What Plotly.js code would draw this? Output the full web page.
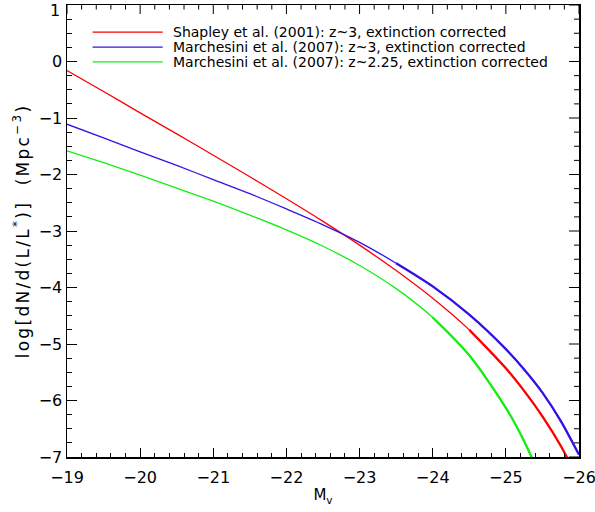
<!DOCTYPE html>
<html>
<head>
<meta charset="utf-8">
<script src="https://cdn.plot.ly/plotly-3.0.1.min.js"></script>
<style>
  html, body { margin: 0; padding: 0; background: #ffffff; }
  #chart { width: 595px; height: 512px; }
  #chart .ytitle { letter-spacing: 2.3px; }
</style>
</head>
<body>
<div id="chart"></div>
<script>
// ---- data ----
const absMag = [-19, -19.5, -20, -20.5, -21, -21.5, -22, -22.5, -23, -23.5, -24, -24.5, -25, -25.25, -25.5, -25.75, -26];
const shapleyZ3 = [-0.16, -0.53, -0.91, -1.28, -1.66, -2.04, -2.43, -2.83, -3.25, -3.70, -4.19, -4.75, -5.43, -5.83, -6.28, -6.80, -7.42];
const marchesiniZ3 = [-1.11, -1.35, -1.60, -1.84, -2.09, -2.34, -2.61, -2.89, -3.20, -3.57, -3.98, -4.48, -5.09, -5.45, -5.86, -6.36, -6.96];
const marchesiniZ225 = [-1.58, -1.79, -2.01, -2.24, -2.47, -2.72, -2.98, -3.27, -3.61, -4.02, -4.53, -5.20, -6.13, -6.72, -7.44];
const seriesNames = [
  'Shapley et al. (2001): z~3, extinction corrected',
  'Marchesini et al. (2007): z~3, extinction corrected',
  'Marchesini et al. (2007): z~2.25, extinction corrected'
];
const xTickVals = [-19, -20, -21, -22, -23, -24, -25, -26];
const yTickVals = [-7, -6, -5, -4, -3, -2, -1, 0, 1];

// ---- styles ----
const seriesValues = [shapleyZ3, marchesiniZ3, marchesiniZ225];
const colors = ['#ff0000', '#3412e6', '#12ee12'];
const thickFrom = [-24.5, -23.5, -24.0];
const FONT = 'DejaVu Sans, Verdana, sans-serif';
const M = { l: 67, r: 16, t: 5, b: 55 };
const W = 595, H = 512;
const plotW = W - M.l - M.r, plotH = H - M.t - M.b;

const traces = [];
seriesValues.forEach((ys, i) => {
  const xs = absMag.slice(0, ys.length);
  traces.push({
    x: xs, y: ys, type: 'scatter', mode: 'lines',
    line: { color: colors[i], width: 1.3, shape: 'spline', smoothing: 0.8 },
    name: seriesNames[i], showlegend: false, hoverinfo: 'skip'
  });
  const tx = [], ty = [];
  xs.forEach((m, k) => { if (m <= thickFrom[i]) { tx.push(m); ty.push(ys[k]); } });
  traces.push({
    x: tx, y: ty, type: 'scatter', mode: 'lines',
    line: { color: colors[i], width: 2.3, shape: 'spline', smoothing: 0.8 },
    showlegend: false, hoverinfo: 'skip'
  });
});

// y tick labels: top one placed as annotation so it is not cut at the page edge
const yTickText = yTickVals.map(v => (v === 1 ? '' : (v < 0 ? '\u2212' + Math.abs(v) : String(v))));
const topLabel = yTickVals[yTickVals.length - 1];

const shapes = [];
const annotations = [];

// mirrored ticks on the top and right edges (IDL style box)
function addTopTick(xv, len) {
  shapes.push({ type: 'line', xref: 'x', yref: 'paper', x0: xv, x1: xv, y0: 1, y1: 1 - len / plotH,
                line: { color: '#000', width: 1 }, layer: 'above' });
}
function addRightTick(yv, len) {
  shapes.push({ type: 'line', xref: 'paper', yref: 'y', x0: 1, x1: 1 - len / plotW, y0: yv, y1: yv,
                line: { color: '#000', width: 1 }, layer: 'above' });
}
xTickVals.forEach(v => addTopTick(v, 9));
for (let k = 0; k < xTickVals.length - 1; k++) {
  for (let j = 1; j < 5; j++) addTopTick(xTickVals[k] + (xTickVals[k + 1] - xTickVals[k]) * j / 5, 4.5);
}
yTickVals.forEach(v => addRightTick(v, 10));
for (let k = 0; k < yTickVals.length - 1; k++) {
  for (let j = 1; j < 4; j++) addRightTick(yTickVals[k] + (yTickVals[k + 1] - yTickVals[k]) * j / 4, 5);
}

// legend drawn by hand (long line samples like the reference)
const legTop = 0.940, legStep = 0.033;
seriesNames.forEach((nm, i) => {
  const yy = legTop - i * legStep;
  shapes.push({ type: 'line', xref: 'paper', yref: 'paper', x0: 0.050, x1: 0.187, y0: yy, y1: yy,
                line: { color: colors[i], width: 1.2 } });
  annotations.push({ xref: 'paper', yref: 'paper', x: 0.203, y: yy, xanchor: 'left', yanchor: 'middle',
                     text: nm, showarrow: false, font: { family: FONT, size: 14, color: '#000' } });
});
annotations.push({ xref: 'paper', yref: 'y', x: 0, y: topLabel, xanchor: 'right', yanchor: 'middle',
                   xshift: -5, yshift: -5, text: String(topLabel), showarrow: false,
                   font: { family: FONT, size: 16, color: '#000' } });

const layout = {
  width: W, height: H,
  margin: M,
  paper_bgcolor: '#fff', plot_bgcolor: '#fff',
  showlegend: false,
  xaxis: {
    showline: true, linecolor: '#000', linewidth: 1.5, mirror: true,
    showgrid: false, zeroline: false,
    range: [-19, -26], autorange: false,
    tickmode: 'array', tickvals: xTickVals,
    ticks: 'inside', ticklen: 9, tickcolor: '#000', tickwidth: 1,
    ticklabelstandoff: 5, ticklabeloverflow: 'allow',
    tickfont: { family: FONT, size: 16, color: '#000' },
    minor: { dtick: 0.2, tick0: -19, ticks: 'inside', ticklen: 4.5, tickcolor: '#000', tickwidth: 1 },
    title: { text: 'M<sub>v</sub>', font: { family: FONT, size: 15, color: '#000' }, standoff: 4 }
  },
  yaxis: {
    showline: true, linecolor: '#000', linewidth: 1.5, mirror: true,
    showgrid: false, zeroline: false,
    range: [-7, 1], autorange: false,
    tickmode: 'array', tickvals: yTickVals, ticktext: yTickText,
    ticks: 'inside', ticklen: 10, tickcolor: '#000', tickwidth: 1,
    ticklabeloverflow: 'allow',
    tickfont: { family: FONT, size: 16, color: '#000' },
    minor: { dtick: 0.25, tick0: -7, ticks: 'inside', ticklen: 5, tickcolor: '#000', tickwidth: 1 },
    title: { text: 'log[dN/d(L/L<sup>*</sup>)]  (Mpc<sup>−3</sup>)', font: { family: FONT, size: 17, color: '#000' }, standoff: 5 }
  },
  shapes: shapes,
  annotations: annotations
};

Plotly.newPlot('chart', traces, layout, { staticPlot: true, displayModeBar: false });
</script>
</body>
</html>
